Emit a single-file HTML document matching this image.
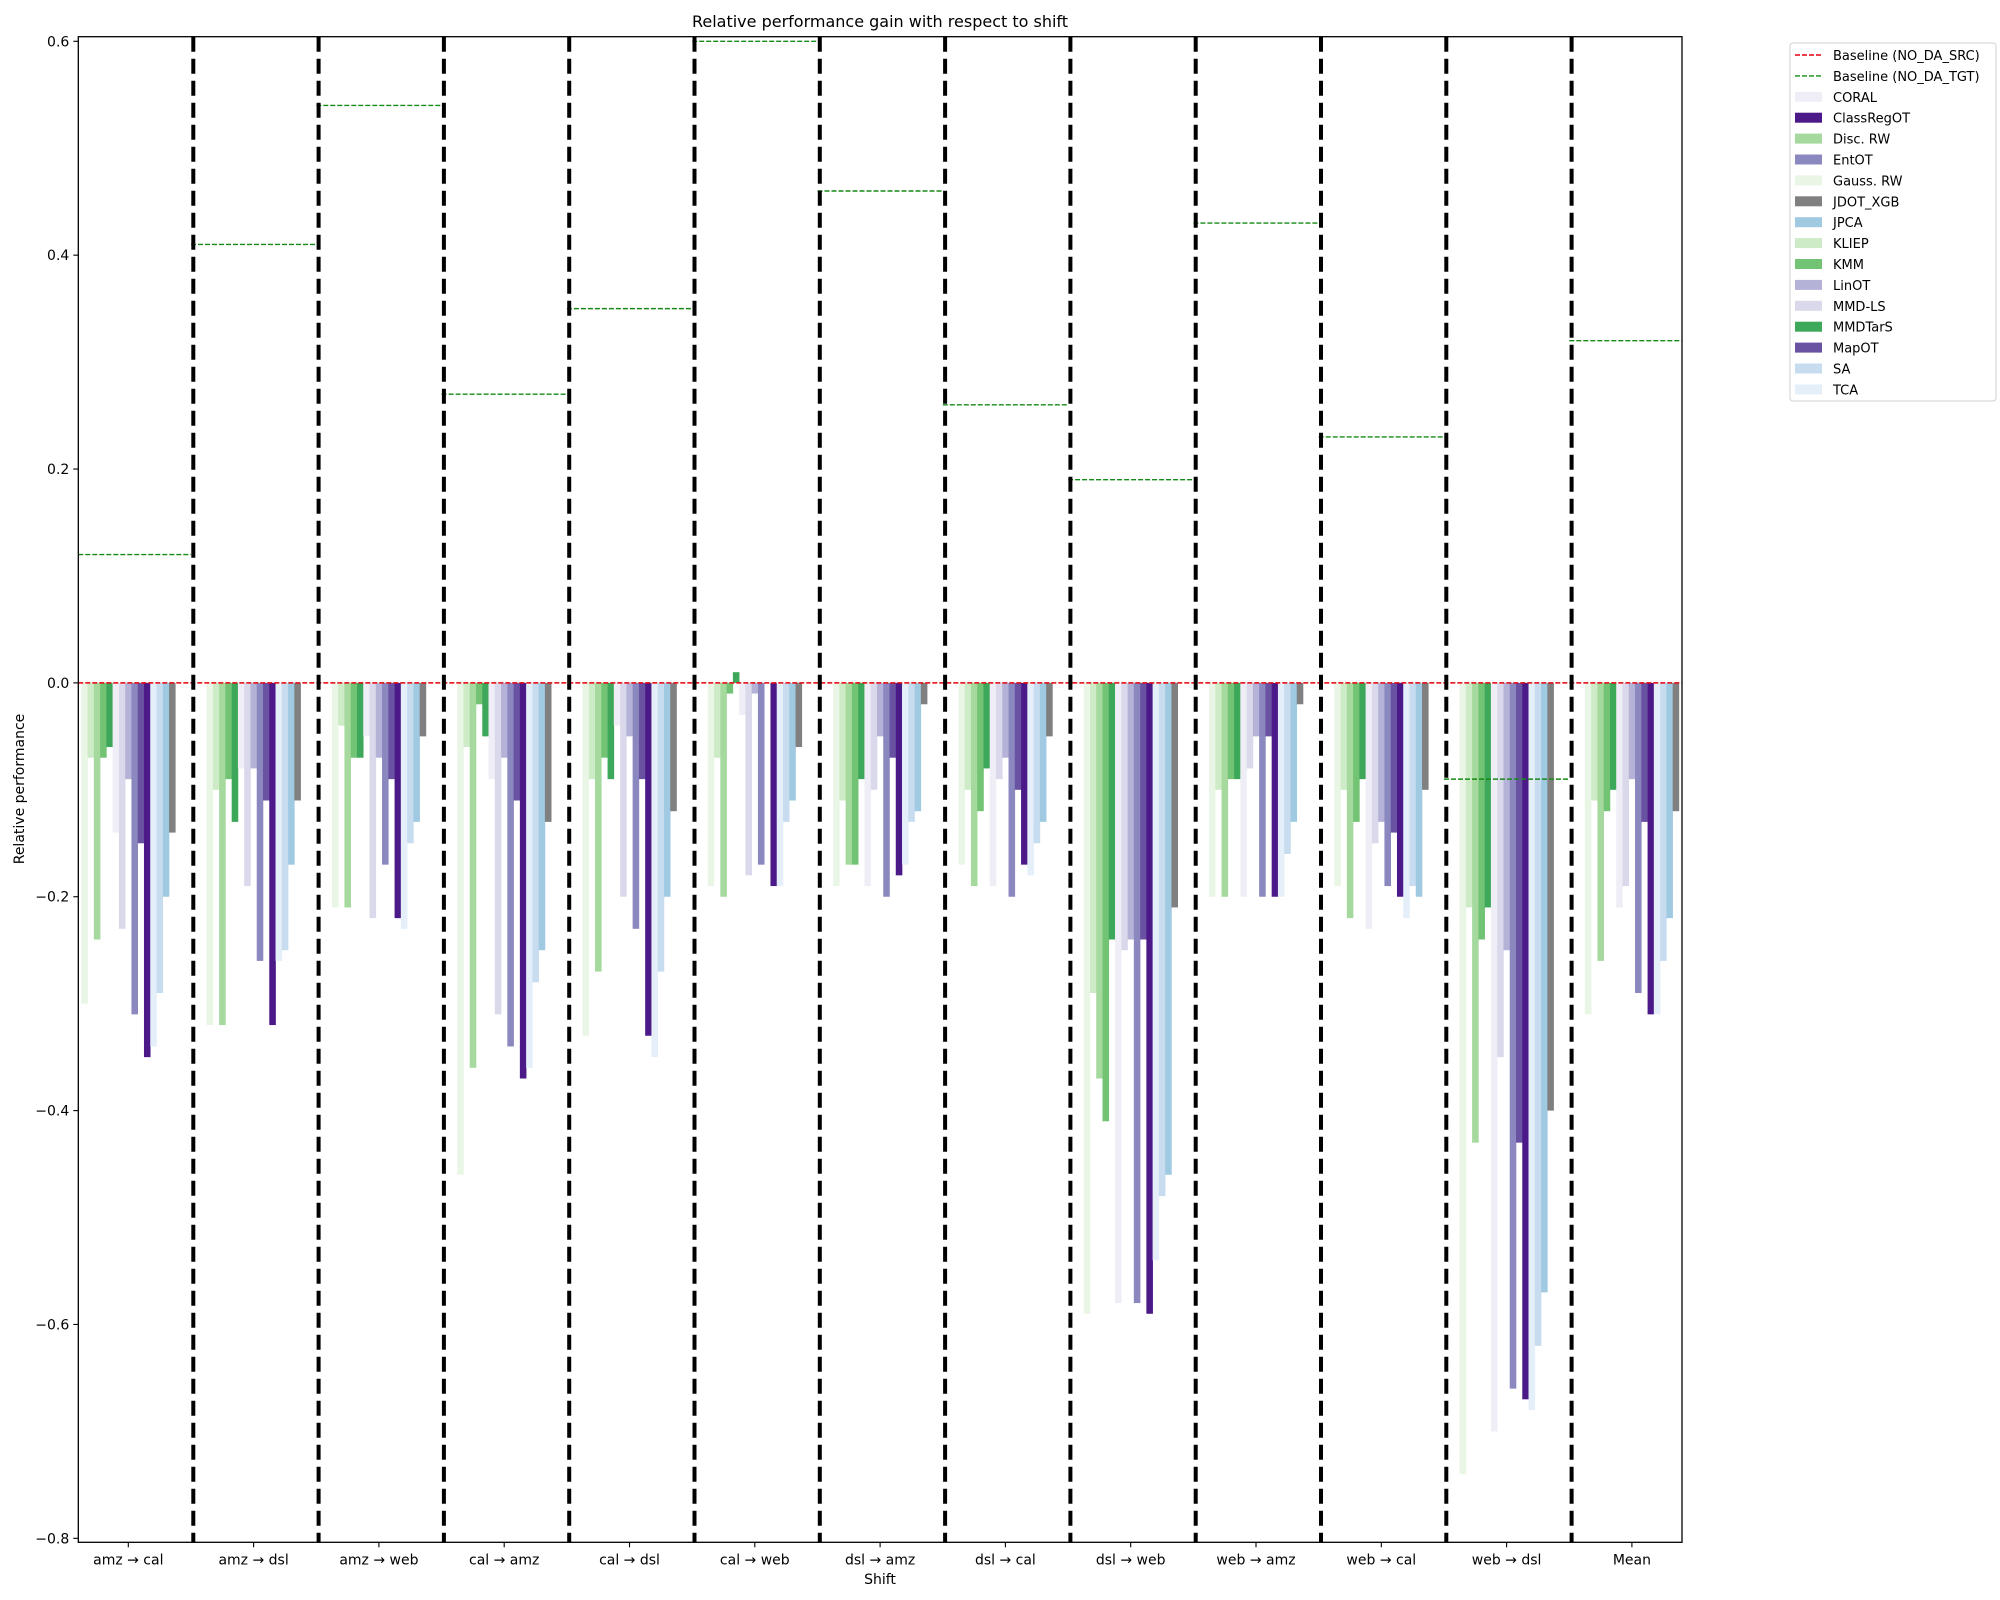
<!DOCTYPE html>
<html><head><meta charset="utf-8"><style>
html,body{margin:0;padding:0;background:#fff;}
svg{display:block;font-family:"DejaVu Sans","Liberation Sans",sans-serif;}
</style></head><body>
<svg id="chart" width="2000" height="1600" viewBox="0 0 2000 1600" xmlns="http://www.w3.org/2000/svg">
<text x="880" y="27" font-size="16" text-anchor="middle">Relative performance gain with respect to shift</text>
<g id="plot"></g>
<text x="880" y="1584" font-size="14" text-anchor="middle">Shift</text>
<text x="0" y="0" font-size="14" text-anchor="middle" transform="translate(24,789) rotate(-90)">Relative performance</text>
<g id="legend"></g>
</svg>
<script>
const categories = ["amz \u2192 cal","amz \u2192 dsl","amz \u2192 web","cal \u2192 amz","cal \u2192 dsl","cal \u2192 web","dsl \u2192 amz","dsl \u2192 cal","dsl \u2192 web","web \u2192 amz","web \u2192 cal","web \u2192 dsl","Mean"];
const methods = ["Gauss. RW","KLIEP","Disc. RW","KMM","MMDTarS","CORAL","MMD-LS","LinOT","EntOT","MapOT","ClassRegOT","TCA","SA","JPCA","JDOT_XGB"];
const legendOrder = ["CORAL","ClassRegOT","Disc. RW","EntOT","Gauss. RW","JDOT_XGB","JPCA","KLIEP","KMM","LinOT","MMD-LS","MMDTarS","MapOT","SA","TCA"];
const gaussRW   = [-0.30,-0.32,-0.21,-0.46,-0.33,-0.19,-0.19,-0.17,-0.59,-0.20,-0.19,-0.74,-0.31];
const kliep     = [-0.07,-0.10,-0.04,-0.06,-0.09,-0.07,-0.11,-0.10,-0.29,-0.10,-0.10,-0.21,-0.11];
const discRW    = [-0.24,-0.32,-0.21,-0.36,-0.27,-0.20,-0.17,-0.19,-0.37,-0.20,-0.22,-0.43,-0.26];
const kmm       = [-0.07,-0.09,-0.07,-0.02,-0.07,-0.01,-0.17,-0.12,-0.41,-0.09,-0.13,-0.24,-0.12];
const mmdtars   = [-0.06,-0.13,-0.07,-0.05,-0.09, 0.01,-0.09,-0.08,-0.24,-0.09,-0.09,-0.21,-0.10];
const coral     = [-0.14,-0.08,-0.05,-0.09,-0.04,-0.03,-0.19,-0.19,-0.58,-0.20,-0.23,-0.70,-0.21];
const mmdls     = [-0.23,-0.19,-0.22,-0.31,-0.20,-0.18,-0.10,-0.09,-0.25,-0.08,-0.15,-0.35,-0.19];
const linot     = [-0.09,-0.08,-0.07,-0.07,-0.05,-0.01,-0.05,-0.07,-0.24,-0.05,-0.13,-0.25,-0.09];
const entot     = [-0.31,-0.26,-0.17,-0.34,-0.23,-0.17,-0.20,-0.20,-0.58,-0.20,-0.19,-0.66,-0.29];
const mapot     = [-0.15,-0.11,-0.09,-0.11,-0.09, 0.00,-0.07,-0.10,-0.24,-0.05,-0.14,-0.43,-0.13];
const classregot= [-0.35,-0.32,-0.22,-0.37,-0.33,-0.19,-0.18,-0.17,-0.59,-0.20,-0.20,-0.67,-0.31];
const tca       = [-0.34,-0.26,-0.23,-0.36,-0.35,-0.19,-0.17,-0.18,-0.54,-0.20,-0.22,-0.68,-0.31];
const sa        = [-0.29,-0.25,-0.15,-0.28,-0.27,-0.13,-0.13,-0.15,-0.48,-0.16,-0.19,-0.62,-0.26];
const jpca      = [-0.20,-0.17,-0.13,-0.25,-0.20,-0.11,-0.12,-0.13,-0.46,-0.13,-0.20,-0.57,-0.22];
const jdot      = [-0.14,-0.11,-0.05,-0.13,-0.12,-0.06,-0.02,-0.05,-0.21,-0.02,-0.10,-0.40,-0.12];
const baselineTgt = [0.12,0.41,0.54,0.27,0.35,0.60,0.46,0.26,0.19,0.43,0.23,-0.09,0.32];
const baselineSrc = 0.0;
const yTicks = [0.6,0.4,0.2,0.0,-0.2,-0.4,-0.6,-0.8];
const yTickLabels = ["0.6","0.4","0.2","0.0","\u22120.2","\u22120.4","\u22120.6","\u22120.8"];

const series = [gaussRW,kliep,discRW,kmm,mmdtars,coral,mmdls,linot,entot,mapot,classregot,tca,sa,jpca,jdot];
const colors = {"Gauss. RW":"#eaf6e5","KLIEP":"#cdebc6","Disc. RW":"#a5d99d","KMM":"#72c374","MMDTarS":"#3ea85a",
 "CORAL":"#efeef6","MMD-LS":"#dad9eb","LinOT":"#b4b3d7","EntOT":"#8b88c0","MapOT":"#6a52a3","ClassRegOT":"#4b1a88",
 "TCA":"#e4eff9","SA":"#c8dcf0","JPCA":"#a0cae2","JDOT_XGB":"#808080"};

const NS="http://www.w3.org/2000/svg";
const L=78.3,R=1682,T=36.7,B=1542.3;
function yScale(v){return 41.3+(0.6-v)*1069.3;}
function xCenter(i){return 128.3+i*125.3;}
const groupW=94, barW=groupW/15;
function mk(tag,attrs,parent){const e=document.createElementNS(NS,tag);for(const k in attrs)e.setAttribute(k,attrs[k]);parent.appendChild(e);return e;}
const plot=document.getElementById('plot');

series.forEach((arr,m)=>{
  arr.forEach((v,i)=>{
    const x=xCenter(i)-groupW/2+m*barW;
    const y0=yScale(0), y1=yScale(v);
    const r=mk('rect',{x:x.toFixed(2),y:Math.min(y0,y1).toFixed(2),width:(barW+0.3).toFixed(2),height:Math.abs(y1-y0).toFixed(2),fill:colors[methods[m]]},plot);
    
    
  });
});
const srcLine=mk('line',{x1:L,x2:R,y1:yScale(baselineSrc),y2:yScale(baselineSrc),stroke:"#e8000b","stroke-width":1.4,"stroke-dasharray":"5,2"},plot);


baselineTgt.forEach((v,i)=>{
  const x1=Math.max(L,xCenter(i)-62.6), x2=Math.min(R,xCenter(i)+62.6);
  const ln=mk('line',{x1:x1,x2:x2,y1:yScale(v),y2:yScale(v),stroke:"#168a16","stroke-width":1.4,"stroke-dasharray":"5,2"},plot);
  
  
});
for(let i=0;i<categories.length-1;i++){
  const x=xCenter(i)+65;
  const s=mk('line',{x1:x,x2:x,y1:T,y2:B,stroke:"#000","stroke-width":4,"stroke-dasharray":"15,7"},plot);
  
  
}
const fr=mk('rect',{x:L,y:T,width:R-L,height:B-T,fill:"none",stroke:"#000","stroke-width":1.3},plot);


yTicks.forEach((v,k)=>{
  const y=yScale(v);
  mk('line',{x1:L-5,x2:L,y1:y,y2:y,stroke:"#000","stroke-width":1.1},plot);
  const t=mk('text',{x:L-9,y:y+5,"font-size":14,"text-anchor":"end"},plot);
  t.textContent=yTickLabels[k];
  
  
});
categories.forEach((c,i)=>{
  const x=xCenter(i);
  mk('line',{x1:x,x2:x,y1:B,y2:B+5,stroke:"#000","stroke-width":1.1},plot);
  const t=mk('text',{x:x,y:B+22,"font-size":14,"text-anchor":"middle"},plot);
  t.textContent=c;
  
  
});
const lg=document.getElementById('legend');
mk('rect',{x:1790,y:43,width:206,height:358,rx:3,fill:"#fff",stroke:"#d0d0d0","stroke-width":1},lg);
const legItems=[["Baseline (NO_DA_SRC)","line","#e8000b"],["Baseline (NO_DA_TGT)","line","#168a16"]].concat(legendOrder.map(n=>[n,"patch",colors[n]]));
legItems.forEach((it,k)=>{
  const y=55+k*20.9;
  const g=mk('g',{},lg);
  
  
  if(it[1]==="line") mk('line',{x1:1795,x2:1822,y1:y,y2:y,stroke:it[2],"stroke-width":1.4,"stroke-dasharray":"5,2"},g);
  else mk('rect',{x:1795,y:y-5,width:27,height:10,fill:it[2]},g);
  const t=mk('text',{x:1833,y:y+5,"font-size":13},g);
  t.textContent=it[0];
});
</script>
</body></html>
